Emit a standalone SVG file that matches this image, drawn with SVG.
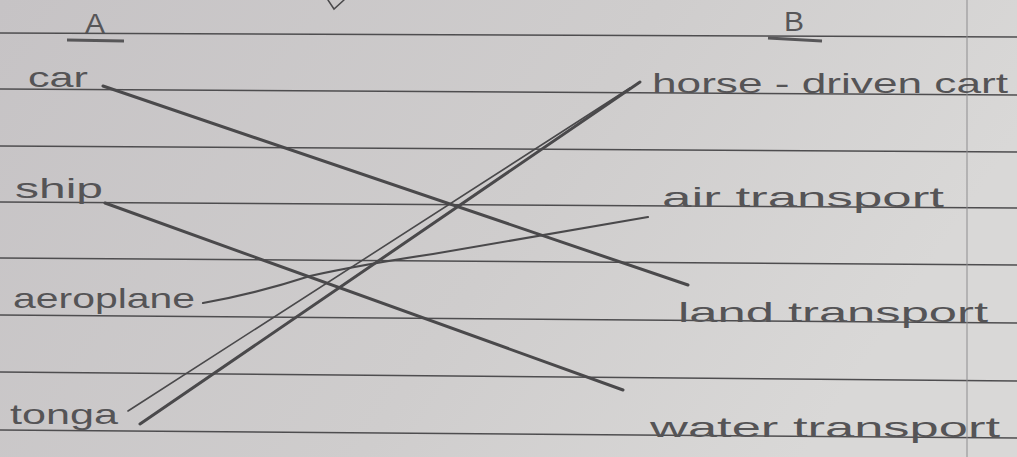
<svg xmlns="http://www.w3.org/2000/svg" width="1017" height="457" viewBox="0 0 1017 457">
<defs>
<linearGradient id="paper" x1="0" y1="0" x2="1" y2="0.3">
<stop offset="0" stop-color="#c6c3c5"/>
<stop offset="0.6" stop-color="#cfcdcd"/>
<stop offset="1" stop-color="#d9d8d7"/>
</linearGradient>
<style>
.rule{stroke:#4e4d4f;stroke-width:1.6;fill:none}
.margin{stroke:#8e8d8f;stroke-width:1;fill:none}
.lbl{font-family:"Liberation Sans",Arial,sans-serif;font-size:28px;fill:#555456}
.head{font-family:"Liberation Sans",Arial,sans-serif;font-size:27px;fill:#575658}
.ul{stroke:#575658;stroke-width:3;fill:none}
.ink{stroke:#4a494b;stroke-linecap:round;fill:none}
</style>
</defs>
<rect width="1017" height="457" fill="url(#paper)"/>
<g id="paper-lines">
<line class="rule" x1="0" y1="33" x2="1017" y2="37"/>
<line class="rule" x1="0" y1="89" x2="1017" y2="95"/>
<line class="rule" x1="0" y1="146" x2="1017" y2="152"/>
<line class="rule" x1="0" y1="202" x2="1017" y2="208"/>
<line class="rule" x1="0" y1="258" x2="1017" y2="265"/>
<line class="rule" x1="0" y1="315" x2="1017" y2="323"/>
<line class="rule" x1="0" y1="372" x2="1017" y2="381"/>
<line class="rule" x1="0" y1="430" x2="1017" y2="438"/>
<line class="margin" x1="967" y1="0" x2="967" y2="457"/>
<path class="ink" stroke-width="1.5" d="M328,0 L334,9 L344,0"/>
</g>
<g id="connectors">
<line class="ink" stroke-width="3" x1="103" y1="86" x2="688" y2="285"/>
<line class="ink" stroke-width="3" x1="105" y1="203" x2="623" y2="390"/>
<path class="ink" stroke-width="2.2" d="M203,303 Q258,293 310,276 Q360,265 433,254 L648,217"/>
<line class="ink" stroke-width="1.6" x1="128" y1="411" x2="630" y2="88"/>
<line class="ink" stroke-width="3" x1="140" y1="424" x2="640" y2="82"/>
</g>
<g id="col-A">
<text class="head" x="85" y="33" textLength="20" lengthAdjust="spacingAndGlyphs">A</text>
<line class="ul" x1="67" y1="40" x2="124" y2="41"/>
</g>
<g id="col-B">
<text class="head" x="784" y="31" textLength="20" lengthAdjust="spacingAndGlyphs">B</text>
<line class="ul" x1="768" y1="38" x2="822" y2="41"/>
</g>
<g id="node-car"><text class="lbl" x="28" y="87" textLength="60" lengthAdjust="spacingAndGlyphs">car</text></g>
<g id="node-ship"><text class="lbl" x="15" y="198" textLength="88" lengthAdjust="spacingAndGlyphs">ship</text></g>
<g id="node-aeroplane"><text class="lbl" x="13" y="308" textLength="182" lengthAdjust="spacingAndGlyphs">aeroplane</text></g>
<g id="node-tonga"><text class="lbl" x="10" y="424" textLength="108" lengthAdjust="spacingAndGlyphs">tonga</text></g>
<g id="node-horse-driven-cart"><text class="lbl" x="652" y="93" textLength="356" lengthAdjust="spacingAndGlyphs">horse - driven cart</text></g>
<g id="node-air-transport"><text class="lbl" x="662" y="207" textLength="282" lengthAdjust="spacingAndGlyphs">air transport</text></g>
<g id="node-land-transport"><text class="lbl" x="678" y="322" textLength="310" lengthAdjust="spacingAndGlyphs">land transport</text></g>
<g id="node-water-transport"><text class="lbl" x="650" y="437" textLength="350" lengthAdjust="spacingAndGlyphs">water transport</text></g>
</svg>
